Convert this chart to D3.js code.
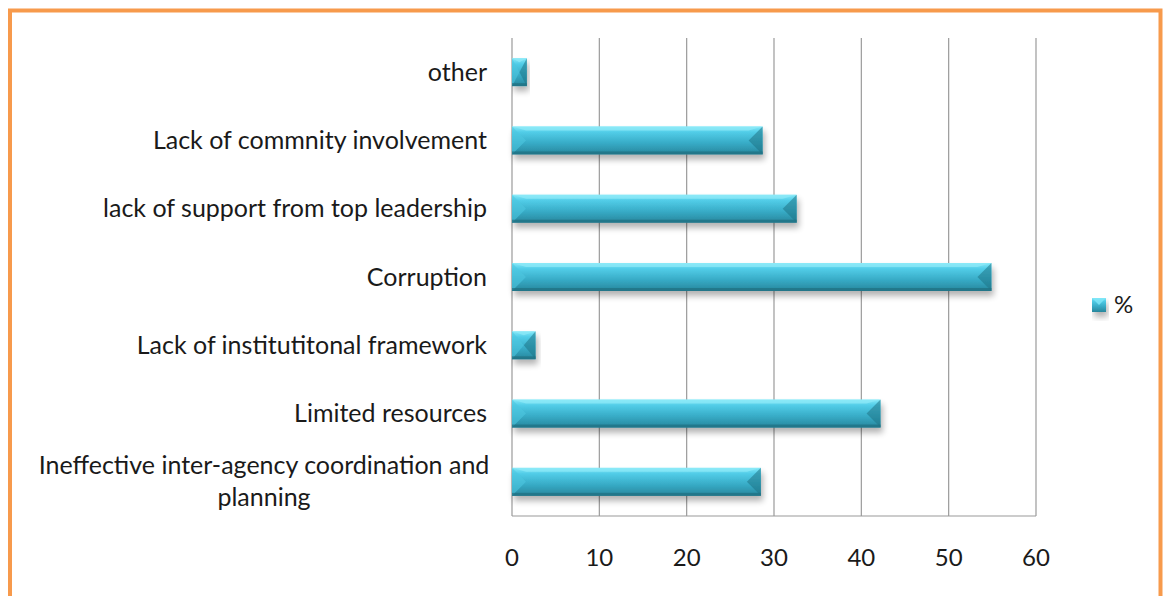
<!DOCTYPE html>
<html lang="en">
<head>
<meta charset="UTF-8">
<title>Barriers chart</title>
<script src="https://cdn.jsdelivr.net/npm/d3@7/dist/d3.min.js"></script>
<style>
    body { margin: 0; background: #fff; }
    svg { display: block; }
    text { font-family: Lato, "Open Sans", sans-serif; fill: #1a1a1a; }
</style>
</head>
<body>
<svg id="chart" width="1164" height="596"></svg>
<script>
    // data
    var categories = [
        "other",
        "Lack of commnity involvement",
        "lack of support from top leadership",
        "Corruption",
        "Lack of institutitonal framework",
        "Limited resources",
        "Ineffective inter-agency coordination and planning"
    ];
    var values = [1.7, 28.7, 32.6, 54.9, 2.7, 42.2, 28.5];
    var xTicks = [0, 10, 20, 30, 40, 50, 60];
    var seriesName = "%";

    var svg = d3.select("#chart");
    var plotLeft = 512, plotRight = 1036, plotTop = 38, plotBottom = 516;
    var fontSize = 24;

    var x = d3.scaleLinear().domain([0, 60]).range([plotLeft, plotRight]);
    var y = d3.scaleBand().domain(categories).range([plotTop, plotBottom]).paddingInner(0.59).paddingOuter(0.295);

    var defs = svg.append("defs");
    var grad = defs.append("linearGradient").attr("id", "barGrad")
        .attr("x1", 0).attr("y1", 0).attr("x2", 0).attr("y2", 1);
    grad.append("stop").attr("offset", "0%").attr("stop-color", "#86e9f8");
    grad.append("stop").attr("offset", "20%").attr("stop-color", "#52cde8");
    grad.append("stop").attr("offset", "60%").attr("stop-color", "#37abc6");
    grad.append("stop").attr("offset", "100%").attr("stop-color", "#27869c");
    var shadow = defs.append("filter").attr("id", "shadow")
        .attr("x", "-10%").attr("y", "-30%").attr("width", "130%").attr("height", "190%");
    shadow.append("feGaussianBlur").attr("in", "SourceAlpha").attr("stdDeviation", 3);
    shadow.append("feOffset").attr("dx", 2).attr("dy", 5).attr("result", "b");
    shadow.append("feComponentTransfer").append("feFuncA").attr("type", "linear").attr("slope", 0.3);
    var merge = shadow.append("feMerge");
    merge.append("feMergeNode");
    merge.append("feMergeNode").attr("in", "SourceGraphic");

    // orange frame
    svg.append("path")
        .attr("d", "M10,596 V10.5 H1160.5 V596")
        .attr("fill", "none").attr("stroke", "#f79a4c").attr("stroke-width", 4);

    // grid
    svg.append("g").selectAll("line").data(xTicks).join("line")
        .attr("x1", function(d) { return x(d); }).attr("x2", function(d) { return x(d); })
        .attr("y1", plotTop).attr("y2", plotBottom)
        .attr("stroke", "#9a9a9a").attr("stroke-width", 1.2);
    svg.append("line").attr("x1", plotLeft).attr("x2", plotRight).attr("y1", plotBottom).attr("y2", plotBottom)
        .attr("stroke", "#9a9a9a").attr("stroke-width", 1.2);

    // bars
    var bars = svg.append("g").selectAll("g").data(categories).join("g")
        .attr("filter", "url(#shadow)");
    bars.each(function(c, i) {
        var g = d3.select(this);
        var x0 = x(0), x1 = x(values[i]), y0 = y(c), h = y.bandwidth();
        var e = Math.min(h / 2, (x1 - x0) / 2);
        g.append("rect").attr("x", x0).attr("y", y0).attr("width", x1 - x0).attr("height", h)
            .attr("fill", "url(#barGrad)");
        // left bevel (light)
        g.append("path")
            .attr("d", "M" + x0 + "," + y0 + "L" + (x0 + e) + "," + (y0 + h / 2) + "L" + x0 + "," + (y0 + h) + "Z")
            .attr("fill", "#4cc6e0").attr("opacity", 0.6);
        // top bevel
        g.append("path")
            .attr("d", "M" + x0 + "," + y0 + "L" + x1 + "," + y0 + "L" + (x1 - e) + "," + (y0 + 4) + "L" + (x0 + e) + "," + (y0 + 4) + "Z")
            .attr("fill", "#8eeaf8").attr("opacity", 0.7);
        // right bevel (dark)
        g.append("path")
            .attr("d", "M" + x1 + "," + y0 + "L" + x1 + "," + (y0 + h) + "L" + (x1 - e) + "," + (y0 + h / 2) + "Z")
            .attr("fill", "#1f7487").attr("opacity", 0.55);
        // bottom edge
        g.append("rect").attr("x", x0).attr("y", y0 + h - 3).attr("width", x1 - x0).attr("height", 3)
            .attr("fill", "#226f80").attr("opacity", 0.7);
    });

    // category labels
    var labels = svg.append("g").selectAll("text").data(categories).join("text")
        .attr("text-anchor", "end")
        .attr("font-size", 25)
        .attr("x", 487)
        .attr("y", function(d) { return y(d) + y.bandwidth() / 2; });
    labels.each(function(d) {
        var t = d3.select(this);
        if (d.length > 40) {
            var cut = d.lastIndexOf(" ");
            t.attr("text-anchor", "middle").attr("x", 264);
            t.append("tspan").attr("x", 264).attr("dy", "-0.3em").text(d.slice(0, cut));
            t.append("tspan").attr("x", 264).attr("dy", "1.25em").text(d.slice(cut + 1));
        } else {
            t.attr("dy", "0.35em").text(d);
        }
    });

    // x axis labels
    svg.append("g").selectAll("text").data(xTicks).join("text")
        .attr("x", function(d) { return x(d); })
        .attr("y", 566)
        .attr("text-anchor", "middle")
        .attr("font-size", fontSize)
        .text(function(d) { return d; });

    // legend
    var lg = svg.append("g").attr("transform", "translate(1092,298)");
    lg.append("rect").attr("width", 14).attr("height", 14).attr("fill", "url(#barGrad)")
        .attr("filter", "url(#shadow)");
    lg.append("path").attr("d", "M0,0 L14,0 L7,7 Z").attr("fill", "#7fe6f7").attr("opacity", 0.8);
    lg.append("text").attr("x", 22).attr("y", 7).attr("dy", "0.35em").attr("font-size", fontSize).text(seriesName);
</script>
</body>
</html>
